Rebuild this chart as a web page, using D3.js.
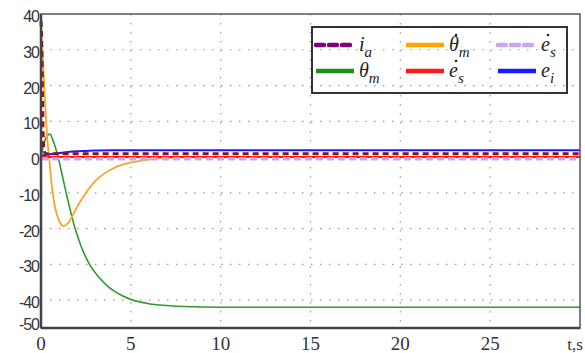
<!DOCTYPE html>
<html>
<head>
<meta charset="utf-8">
<script src="https://cdn.jsdelivr.net/npm/d3@7"></script>
<style>
  body { margin: 0; background: #fff; }
  svg { display: block; }
</style>
</head>
<body>
<div id="chart"></div>
<script>
// values
const xTicks = [0, 5, 10, 15, 20, 25];
const yTicks = [-50, -40, -30, -20, -10, 0, 10, 20, 30, 40];

const tIa = [0, 0.04, 0.08, 0.12, 0.18, 0.3, 30];
const ia = [38, 32, 18, 6, 1.5, 0.9, 0.9];

const tWm = [0, 0.08, 0.16, 0.25, 0.35, 0.45, 0.6, 0.8, 1.0, 1.25, 1.5, 2, 2.5, 3, 3.5, 4, 4.5, 5, 6, 7, 8, 10, 30];
const wm = [34, 30, 22, 13, 5, 0, -8, -14.5, -17.8, -19.3, -18.5, -14, -10, -6.8, -4.7, -3.2, -2.2, -1.5, -0.7, -0.3, -0.1, 0, 0];

const tTh = [0, 0.15, 0.3, 0.5, 0.7, 0.95, 1.2, 1.4, 1.9, 2.2, 2.7, 3.2, 3.8, 4.5, 5.1, 6, 7, 8, 10, 30];
const th = [0, 3.5, 5.6, 6.4, 4.2, 0, -5.5, -10, -20, -24.5, -30, -33.5, -36.5, -38.7, -40, -41, -41.5, -41.8, -42, -42];

const tEi = [0, 0.5, 1, 1.5, 2, 2.5, 3, 4, 5, 30];
const ei = [0.4, 0.8, 1.1, 1.4, 1.6, 1.7, 1.8, 1.9, 1.9, 1.9];

const tEs = [0, 30];
const es = [0, 0];

const tDes = [0, 30];
const des = [-0.5, -0.5];

const width = 585, height = 353;
const margin = { left: 41, right: 5, top: 14, bottom: 25 };

const svg = d3.select('#chart').append('svg')
    .attr('width', width)
    .attr('height', height);

const x = d3.scaleLinear().domain([0, 30]).range([margin.left, width - margin.right]);
const y = d3.scaleLinear().domain([-47.8, 40]).range([height - margin.bottom, margin.top]);

// dotted grid
svg.append('g')
    .selectAll('line')
    .data(xTicks.filter(d => d > 0))
    .join('line')
    .attr('x1', d => x(d)).attr('x2', d => x(d))
    .attr('y1', y.range()[1]).attr('y2', y.range()[0])
    .attr('stroke', '#999').attr('stroke-width', 1.2)
    .attr('stroke-dasharray', '1.5,7.5');

svg.append('g')
    .selectAll('line')
    .data(yTicks.filter(d => d > -50 && d < 40))
    .join('line')
    .attr('x1', x.range()[0]).attr('x2', x.range()[1])
    .attr('y1', d => y(d)).attr('y2', d => y(d))
    .attr('stroke', '#999').attr('stroke-width', 1.2)
    .attr('stroke-dasharray', '1.5,7.5');

// series
const series = [
    { t: tTh, v: th, color: '#2e9a2e', w: 1.6, dash: null },
    { t: tWm, v: wm, color: '#f5a623', w: 1.8, dash: null },
    { t: tEi, v: ei, color: '#1a1aff', w: 2, dash: null },
    { t: tEs, v: es, color: '#ff1a1a', w: 2, dash: null },
    { t: tDes, v: des, color: '#c9a6f2', w: 3.5, dash: '7,4' },
    { t: tIa, v: ia, color: '#8b1020', w: 3, dash: '6,4' }
];

const line = d3.line()
    .x(d => x(d[0]))
    .y(d => y(d[1]))
    .curve(d3.curveMonotoneX);

svg.append('g')
    .selectAll('path')
    .data(series)
    .join('path')
    .attr('d', s => line(s.t.map((t, i) => [t, s.v[i]])))
    .attr('fill', 'none')
    .attr('stroke', s => s.color)
    .attr('stroke-width', s => s.w)
    .attr('stroke-dasharray', s => s.dash);

// frame
svg.append('rect')
    .attr('x', x.range()[0]).attr('y', y.range()[1])
    .attr('width', x.range()[1] - x.range()[0])
    .attr('height', y.range()[0] - y.range()[1])
    .attr('fill', 'none')
    .attr('stroke', '#555').attr('stroke-width', 1.5);
svg.append('line')
    .attr('x1', x.range()[0]).attr('x2', x.range()[0])
    .attr('y1', y.range()[1]).attr('y2', y.range()[0])
    .attr('stroke', '#444').attr('stroke-width', 2.5);
svg.append('line')
    .attr('x1', x.range()[0]).attr('x2', x.range()[1])
    .attr('y1', y.range()[0]).attr('y2', y.range()[0])
    .attr('stroke', '#444').attr('stroke-width', 2.5);

// tick labels
svg.append('g')
    .selectAll('text')
    .data(yTicks)
    .join('text')
    .attr('x', x.range()[0] - 2)
    .attr('y', d => Math.min(y(d), y.range()[0] - 6) + 3)
    .attr('dy', '0.32em')
    .attr('text-anchor', 'end')
    .attr('font-family', 'Liberation Sans, Arial, sans-serif')
    .attr('font-size', 16)
    .attr('letter-spacing', -1)
    .attr('fill', '#333')
    .text(d => d);

svg.append('g')
    .selectAll('text')
    .data(xTicks)
    .join('text')
    .attr('x', d => x(d))
    .attr('y', height - 3)
    .attr('text-anchor', 'middle')
    .attr('font-family', 'Liberation Serif, Times New Roman, serif')
    .attr('font-size', 19)
    .attr('fill', '#333')
    .text(d => d);

svg.append('text')
    .attr('x', width - 10)
    .attr('y', height - 3)
    .attr('text-anchor', 'middle')
    .attr('font-family', 'Liberation Serif, Times New Roman, serif')
    .attr('font-size', 17)
    .attr('fill', '#333')
    .text('t,s');

// legend
const legendItems = [
    { base: 'i', sub: 'a', dot: false, color: '#800080', dash: '8,5', col: 0, row: 0 },
    { base: 'θ', sub: 'm', dot: true, color: '#ffa500', dash: null, col: 1, row: 0 },
    { base: 'e', sub: 's', dot: true, color: '#c9a6f2', dash: '8,5', col: 2, row: 0 },
    { base: 'θ', sub: 'm', dot: false, color: '#169416', dash: null, col: 0, row: 1 },
    { base: 'e', sub: 's', dot: true, color: '#ff1a1a', dash: null, col: 1, row: 1 },
    { base: 'e', sub: 'i', dot: false, color: '#1a1aff', dash: null, col: 2, row: 1 }
];
const colX = [315, 405, 497];
const rowY = [45, 71];

const legend = svg.append('g');
legend.append('rect')
    .attr('x', 312).attr('y', 27)
    .attr('width', 255).attr('height', 66)
    .attr('fill', 'none')
    .attr('stroke', '#333').attr('stroke-width', 2);

const item = legend.selectAll('g.item')
    .data(legendItems)
    .join('g')
    .attr('class', 'item')
    .attr('transform', d => `translate(${colX[d.col]},${rowY[d.row]})`);

item.append('line')
    .attr('x1', 1).attr('x2', 39)
    .attr('stroke', d => d.color)
    .attr('stroke-width', 4.5)
    .attr('stroke-linecap', d => d.dash ? 'round' : 'butt')
    .attr('stroke-dasharray', d => d.dash);

const label = item.append('text')
    .attr('x', 44)
    .attr('y', 6)
    .attr('font-family', 'Liberation Serif, Times New Roman, serif')
    .attr('font-style', 'italic')
    .attr('font-size', 20)
    .attr('fill', '#222');
label.append('tspan').text(d => d.base);
label.append('tspan')
    .attr('dy', 6)
    .attr('font-size', 15)
    .text(d => d.sub);

item.filter(d => d.dot)
    .append('circle')
    .attr('cx', 51)
    .attr('cy', -10)
    .attr('r', 1.3)
    .attr('fill', '#222');
</script>
</body>
</html>
